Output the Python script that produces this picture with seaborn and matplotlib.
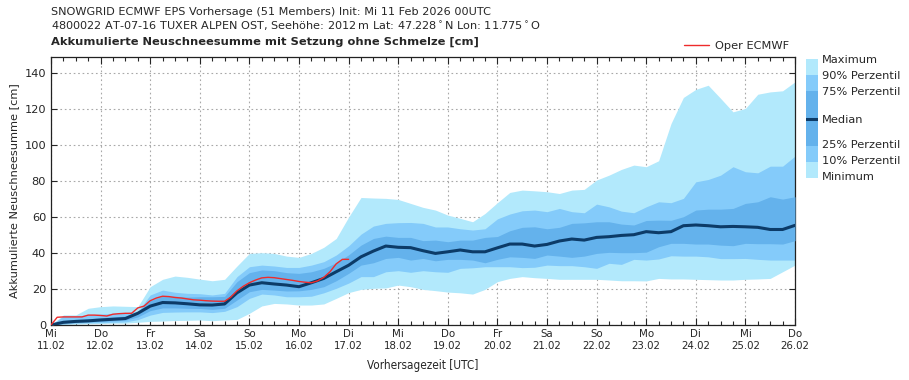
import matplotlib
matplotlib.use("Agg")
import matplotlib.pyplot as plt
import seaborn as sns
import pandas as pd
import numpy as np

# forecast hours, ensemble every 6 h
hours = list(range(0, 361, 6))
ens_max = [0, 5.6, 5.6, 9.3, 10.2, 10.6, 10.4, 10.2, 21.3, 25.4, 27.2, 26.5, 25.5, 24.6, 25.4, 32.8,
           39.8, 40.2, 39.8, 38.3, 37.6, 39.8, 43.2, 48.1, 60, 70.9, 70.6, 70.4, 69.8, 67.6, 65.4,
           63.9, 61.1, 59.3, 57.4, 62, 68, 73.7, 75, 74.6, 74.1, 73.1, 75, 75.4, 80.6, 83.3, 86.5,
           88.9, 88, 91.3, 112, 126.5, 131, 133.3, 126, 118.5, 120.4, 128.3, 129.6, 130.2, 135.2]
p90 = [0, 5, 5, 5.6, 6.1, 6.5, 6.9, 7.4, 16.7, 19.4, 18.2, 17.6, 17.4, 16.7, 17.6, 26.9,
       32.4, 33.3, 32.8, 32, 32, 33.3, 35.2, 38.9, 44, 50.5, 55, 56.5, 56.9, 57, 56.5,
       54.5, 54.5, 53.5, 52.8, 53.5, 59, 61.7, 63.5, 63.9, 63, 64.8, 63, 62.4, 67.2, 65.7, 63.3,
       62.4, 65.7, 68.5, 68, 70.4, 79.6, 80.9, 83.3, 88, 85.2, 84.6, 88.3, 88.3, 93.9]
p75 = [0, 2.5, 3, 3.5, 4, 4.5, 5, 7.5, 13.5, 16, 16, 15.5, 15.7, 15.7, 15.9, 24.1,
       29.1, 30.6, 30.2, 29.1, 28.7, 29.6, 31.5, 34.6, 39, 44.4, 48.1, 49.4, 48.7, 48.7, 46.9,
       47.2, 46.3, 47.2, 47.2, 48.7, 49.2, 52.4, 54.3, 54.6, 53.5, 54.3, 56.5, 56.8, 57.4, 57.4, 56.1,
       55.6, 58.1, 58.3, 58.2, 60.2, 63.9, 64.4, 64.4, 64.8, 67.6, 68.5, 71.3, 70, 71.3]
median = [0, 1.5, 2, 2.3, 2.8, 3.2, 3.6, 6.5, 10.5, 12.5, 12.3, 11.8, 11.2, 11.1, 11.7, 17.9,
          22.2, 23.5, 22.8, 22.2, 21.3, 23.5, 25.9, 29.6, 33.2, 37.9, 41.1, 43.9, 43.2, 43, 41.3,
          39.8, 40.7, 41.7, 40.7, 40.7, 42.9, 45, 45, 43.9, 44.8, 46.7, 47.8, 47.2, 48.7, 49.1, 49.8,
          50.2, 51.9, 51.3, 51.9, 55.2, 55.6, 55.2, 54.6, 54.8, 54.6, 54.3, 53.1, 53.1, 55.4]
p25 = [0, 1, 1.5, 1.7, 2, 2.3, 2.7, 4.5, 8, 9.5, 9.5, 9.3, 9.2, 8.7, 9.3, 13.9,
       18.5, 19.8, 19.4, 18.9, 19, 19.8, 21.3, 24.6, 28.7, 33.3, 34.6, 37, 37.6, 36.1, 37,
       35.7, 36.5, 36.5, 36.1, 34.6, 36.5, 37.9, 37.6, 37, 38.9, 38.3, 37.6, 38.3, 39.8, 40.4, 40.2,
       40.2, 40.5, 43.5, 45.4, 45.4, 45, 45, 44.4, 44.1, 45.4, 45.2, 45.2, 45, 46.9]
p10 = [0, 0.5, 1, 1.2, 1.3, 1.5, 1.7, 3, 5.5, 7, 7.2, 7.3, 7.3, 6.9, 7.6, 10.2,
       14.8, 17.2, 16.7, 15.7, 15.7, 16, 17.9, 20.4, 23.3, 26.9, 26.9, 29.6, 30.2, 29.3, 30.2,
       29.6, 29.3, 31.5, 31.8, 32.4, 32.4, 32.4, 31.9, 32.1, 33.3, 33, 33, 32.4, 31.5, 34.3, 33.7,
       36.5, 36.1, 36.7, 38.5, 38.3, 38.3, 37.9, 36.9, 36.9, 37, 36.5, 36.1, 36.1, 36.1]
ens_min = [0, 0.3, 0.5, 0.7, 0.8, 1, 1, 1.5, 2, 2.2, 2.5, 2.6, 2.8, 2.4, 2.8, 3.1,
           6.5, 10.6, 12, 11.7, 11.1, 11.1, 11.7, 14.8, 18, 19.8, 20.4, 20.6, 22.2, 21.3, 19.8,
           19.1, 18.3, 17.9, 17.2, 19.8, 24.1, 25.9, 26.9, 26.3, 25.9, 25.4, 25.4, 25.4, 25.4, 25, 24.6,
           24.6, 24.5, 25.9, 25.6, 25.6, 25.4, 25.2, 25, 25, 25.4, 25.6, 25.9, 29.6, 33.3]

# operational run, every 3 h up to 144 h
oper_hours = list(range(0, 145, 3))
oper = [0, 4.3, 4.5, 4.5, 4.5, 4.5, 5.5, 5.5, 5.3, 5.0, 6.0, 6.3, 6.5, 6.5, 9.5, 10.5, 13.5,
        15, 16, 15.8, 15.3, 15, 14.5, 14.0, 13.8, 13.5, 13.3, 13.2, 13.2, 15.5, 19, 21.5, 23.5,
        25, 26.2, 26.5, 26.3, 25.8, 25.3, 24.8, 24.2, 23.8, 23.5, 24.5, 26.5, 29.6, 34, 36.5, 36.5]

day_labels = ["Mi\n11.02", "Do\n12.02", "Fr\n13.02", "Sa\n14.02", "So\n15.02", "Mo\n16.02",
              "Di\n17.02", "Mi\n18.02", "Do\n19.02", "Fr\n20.02", "Sa\n21.02", "So\n22.02",
              "Mo\n23.02", "Di\n24.02", "Mi\n25.02", "Do\n26.02"]
band_labels = ["Maximum", "90% Perzentil", "75% Perzentil", "Median",
               "25% Perzentil", "10% Perzentil", "Minimum"]

c_outer = "#b2e9fc"
c_mid = "#84cbfa"
c_inner = "#64b2ec"
c_med = "#0c3b68"
c_oper = "#ee2b2b"

sns.set_style("white")
plt.rcParams["font.family"] = ["DejaVu Sans"]

ens = pd.DataFrame({"h": hours, "median": median})
op = pd.DataFrame({"h": oper_hours, "oper": oper})

fig = plt.figure(figsize=(9.09, 3.80), dpi=100)
ax = fig.add_axes([51 / 909, 55 / 380, 744 / 909, 268 / 380])

ax.fill_between(hours, ens_min, ens_max, color=c_outer, lw=0, zorder=1)
ax.fill_between(hours, p10, p90, color=c_mid, lw=0, zorder=2)
ax.fill_between(hours, p25, p75, color=c_inner, lw=0, zorder=3)
sns.lineplot(data=ens, x="h", y="median", ax=ax, color=c_med, lw=2.2, zorder=5)
sns.lineplot(data=op, x="h", y="oper", ax=ax, color=c_oper, lw=1.0, zorder=6,
             label="Oper ECMWF")

ax.set_xlim(0, 360)
ax.set_ylim(0, 149)
ax.set_xticks(range(0, 361, 24))
ax.set_xticks(range(0, 361, 6), minor=True)
ax.set_xticklabels(day_labels, fontsize=8.2, fontstretch="condensed")
ax.set_yticks(range(0, 141, 20))
ax.tick_params(axis="y", labelsize=8.2, direction="in", left=True, right=True, length=4, width=0.8)
ax.tick_params(axis="x", which="major", direction="in", bottom=True, top=True, length=5, width=0.8, pad=3)
ax.tick_params(axis="x", which="minor", direction="in", bottom=True, top=True, length=3, width=0.8)
ax.grid(True, which="major", ls=(0, (1.5, 2.5)), color="#a8a8a8", lw=0.8)
for g in ax.get_xgridlines() + ax.get_ygridlines():
    g.set_zorder(4)
for s in ax.spines.values():
    s.set_color("#222222")
    s.set_linewidth(0.9)
ax.set_xlabel("Vorhersagezeit [UTC]", fontsize=8.4, fontstretch="condensed", labelpad=6)
ax.set_ylabel("Akkumulierte Neuschneesumme [cm]", fontsize=8.2)

leg = ax.legend(loc="lower right", bbox_to_anchor=(1.0, 1.0), frameon=False, fontsize=8.2,
                handlelength=2.2, borderaxespad=0.1, handletextpad=0.5)

fig.text(51 / 909, 1 - 12 / 380, "SNOWGRID ECMWF EPS Vorhersage (51 Members) Init: Mi 11 Feb 2026 00UTC",
         fontsize=8.15, va="center")
fig.text(51 / 909, 1 - 26 / 380,
         "4800022 AT-07-16 TUXER ALPEN OST, Seehöhe: 2012$\\,$m Lat: 47.228$^\\circ$N Lon: 11.775$^\\circ$O",
         fontsize=8.1, va="center")
fig.text(51 / 909, 1 - 42 / 380, "Akkumulierte Neuschneesumme mit Setzung ohne Schmelze [cm]",
         fontsize=8.25, fontweight="bold", va="center")

# colour key to the right
lax = fig.add_axes([806 / 909, 1 - 178 / 380, 12 / 909, 119 / 380])
lax.set_xlim(0, 1)
lax.set_ylim(0, 119)
lax.axhspan(103, 119, color=c_outer, lw=0)
lax.axhspan(87, 103, color=c_mid, lw=0)
lax.axhspan(32, 87, color=c_inner, lw=0)
lax.axhspan(16, 32, color=c_mid, lw=0)
lax.axhspan(0, 16, color=c_outer, lw=0)
lax.axhline(59, color=c_med, lw=2.2)
lax.axis("off")
label_y = [60, 76, 92, 120, 145, 161, 177]
for lbl, yy in zip(band_labels, label_y):
    fig.text(822 / 909, 1 - yy / 380, lbl, fontsize=8.2, va="center")

fig.savefig("out.png", dpi=100)
